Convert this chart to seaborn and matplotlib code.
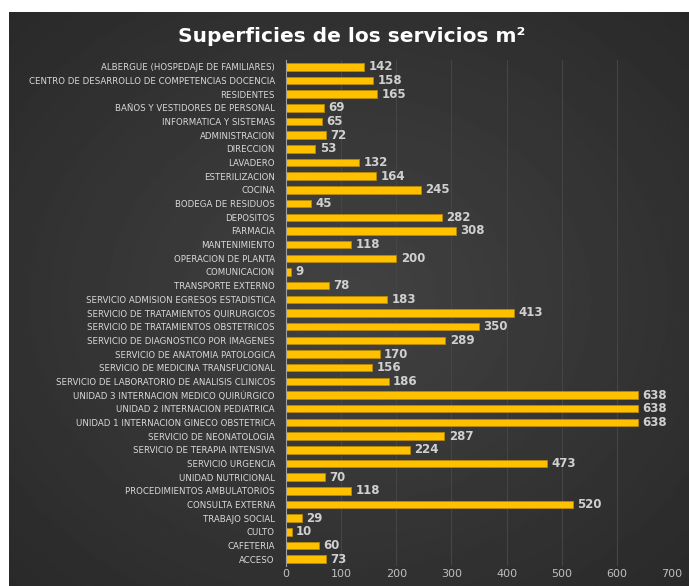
import numpy as np
import pandas as pd
import matplotlib
matplotlib.use("Agg")
import matplotlib.pyplot as plt
import seaborn as sns

servicios = [
    "ALBERGUE (HOSPEDAJE DE FAMILIARES)",
    "CENTRO DE DESARROLLO DE COMPETENCIAS DOCENCIA",
    "RESIDENTES",
    "BAÑOS Y VESTIDORES DE PERSONAL",
    "INFORMATICA Y SISTEMAS",
    "ADMINISTRACION",
    "DIRECCION",
    "LAVADERO",
    "ESTERILIZACION",
    "COCINA",
    "BODEGA DE RESIDUOS",
    "DEPOSITOS",
    "FARMACIA",
    "MANTENIMIENTO",
    "OPERACION DE PLANTA",
    "COMUNICACION",
    "TRANSPORTE EXTERNO",
    "SERVICIO ADMISION EGRESOS ESTADISTICA",
    "SERVICIO DE TRATAMIENTOS QUIRURGICOS",
    "SERVICIO DE TRATAMIENTOS OBSTETRICOS",
    "SERVICIO DE DIAGNOSTICO POR IMAGENES",
    "SERVICIO DE ANATOMIA PATOLOGICA",
    "SERVICIO DE MEDICINA TRANSFUCIONAL",
    "SERVICIO DE LABORATORIO DE ANALISIS CLINICOS",
    "UNIDAD 3 INTERNACION MEDICO QUIRÚRGICO",
    "UNIDAD 2 INTERNACION PEDIATRICA",
    "UNIDAD 1 INTERNACION GINECO OBSTETRICA",
    "SERVICIO DE NEONATOLOGIA",
    "SERVICIO DE TERAPIA INTENSIVA",
    "SERVICIO URGENCIA",
    "UNIDAD NUTRICIONAL",
    "PROCEDIMIENTOS AMBULATORIOS",
    "CONSULTA EXTERNA",
    "TRABAJO SOCIAL",
    "CULTO",
    "CAFETERIA",
    "ACCESO",
]
superficie = [142, 158, 165, 69, 65, 72, 53, 132, 164, 245, 45, 282, 308, 118,
              200, 9, 78, 183, 413, 350, 289, 170, 156, 186, 638, 638, 638,
              287, 224, 473, 70, 118, 520, 29, 10, 60, 73]
x_ticks = [0, 100, 200, 300, 400, 500, 600, 700]

df = pd.DataFrame({"servicio": servicios, "m2": superficie})

sns.set_style("dark")
plt.rcParams["font.family"] = ["DejaVu Sans"]

fig = plt.figure(figsize=(6.89, 5.86), dpi=100)
fig.patch.set_facecolor("white")

# dark background panel with soft radial gradient
bg = fig.add_axes([9 / 689, 0, 680 / 689, 574 / 586], zorder=-5)
yy, xx = np.mgrid[0:1:300j, 0:1:350j]
r = np.sqrt(((xx - 0.5) / 0.8) ** 2 + ((yy - 0.5) / 0.8) ** 2)
bg.imshow(0.26 - 0.11 * np.clip(r, 0, 1), cmap="gray", vmin=0, vmax=1,
          aspect="auto", extent=[0, 1, 0, 1])
bg.set_axis_off()

ax = fig.add_axes([286 / 689, 1 - 566 / 586, 386 / 689, (566 - 60) / 586])
ax.patch.set_alpha(0)
sns.barplot(data=df, x="m2", y="servicio", color="#FFC000", width=0.55,
            edgecolor="#b88a00", linewidth=0.6, ax=ax, saturation=1)

ax.set_xlim(0, 700)
ax.set_ylim(len(servicios) - 0.5, -0.5)
ax.set_xticks(x_ticks)
ax.xaxis.grid(True, color="#454545", linewidth=0.8)
ax.yaxis.grid(False)
ax.set_axisbelow(True)
for s in ["top", "right", "bottom"]:
    ax.spines[s].set_visible(False)
ax.spines["left"].set_color("#a0a0a0")
ax.spines["left"].set_linewidth(0.8)
ax.tick_params(axis="x", colors="#bfbfbf", labelsize=8, length=0, pad=2.5)
ax.tick_params(axis="y", colors="#d9d9d9", labelsize=6.2, length=0, pad=8)
ax.set_xlabel("")
ax.set_ylabel("")

for i, v in enumerate(superficie):
    ax.text(v + 8, i, str(v), va="center", ha="left", fontsize=8.5,
            color="#d0d0d0", fontweight="bold")

fig.text(0.511, 1 - 36 / 586, "Superficies de los servicios m²", ha="center",
         va="center", color="white", fontsize=14.5, fontweight="bold")

fig.savefig("out.png", dpi=100)
